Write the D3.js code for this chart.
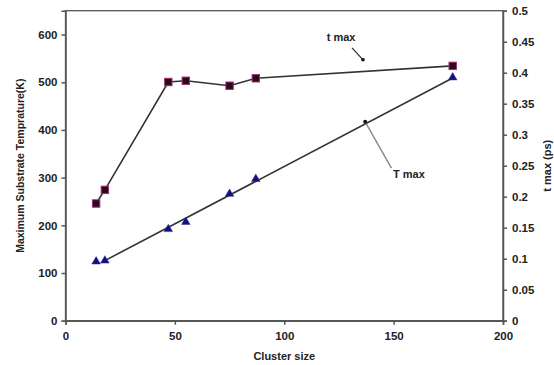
<!DOCTYPE html>
<html><head><meta charset="utf-8">
<script src="https://cdn.jsdelivr.net/npm/d3@7"></script>
<style>body{margin:0;background:#fff}svg{display:block}text{font-family:"Liberation Sans",Arial,sans-serif;font-weight:bold;fill:#222}</style>
</head><body><svg id="c" width="554" height="365"></svg>
<script>
const clusterSizes = [14, 18, 47, 55, 75, 87, 177];
const tMaxPs = [0.189, 0.211, 0.385, 0.387, 0.379, 0.391, 0.411];
const TMaxK = [124, 126, 192, 207, 266, 297, 510];
const trendX = [18, 177];
const trendY = [126, 509];
const xTicks = [0, 50, 100, 150, 200];
const leftTicks = [0, 100, 200, 300, 400, 500, 600];
const rightTicks = [0, 0.05, 0.1, 0.15, 0.2, 0.25, 0.3, 0.35, 0.4, 0.45, 0.5];
const labels = {x: "Cluster size", left: "Maximum Substrate Temprature(K)", right: "t max (ps)"};
// annotations in data units
const annoT = {text: "t max", lx: 126, ly: 586, x1: 131, y1: 572, x2: 136, y2: 547};
const annoK = {text: "T max", lx: 157, ly: 300, x1: 149, y1: 320, x2: 137, y2: 417};

const svg = d3.select("#c");
const x = d3.scaleLinear().domain([0, 200]).range([65.5, 503]);
const yL = d3.scaleLinear().domain([0, 650]).range([320.7, 10.7]);
const yR = d3.scaleLinear().domain([0, 0.5]).range([320.7, 10.7]);

svg.append("rect").attr("x", x(0)).attr("y", yL(650)).attr("width", x(200) - x(0)).attr("height", yL(0) - yL(650))
  .attr("fill", "none").attr("stroke", "#555").attr("stroke-width", 1.3);

const ax = svg.append("g").attr("transform", `translate(0,${yL(0)})`)
  .call(d3.axisBottom(x).tickValues(xTicks).tickSize(4).tickFormat(d3.format("d")));
const al = svg.append("g").attr("transform", `translate(${x(0)},0)`)
  .call(d3.axisLeft(yL).tickValues(leftTicks).tickSize(4).tickFormat(d3.format("d")));
const ar = svg.append("g").attr("transform", `translate(${x(200)},0)`)
  .call(d3.axisRight(yR).tickValues(rightTicks).tickSize(4).tickFormat(d => d === 0 ? "0" : String(+d.toFixed(2))));
[ax, al, ar].forEach(g => {
  g.selectAll("path,line").attr("stroke", "#555").attr("stroke-width", 1.5);
  g.selectAll("text").attr("font-size", 11.5).attr("font-family", "Liberation Sans,Arial,sans-serif").attr("font-weight", "bold").attr("fill", "#222");
});
ax.selectAll("text").attr("dy", "1.05em");
al.selectAll("text").attr("x", -8);
ar.selectAll("text").attr("x", 9);

svg.append("text").attr("x", (x(0) + x(200)) / 2).attr("y", 360).attr("text-anchor", "middle").attr("font-size", 11).text(labels.x);
svg.append("text").attr("transform", `translate(24,${(yL(0) + yL(650)) / 2}) rotate(-90)`).attr("text-anchor", "middle").attr("font-size", 10.5).text(labels.left);
svg.append("text").attr("transform", `translate(551,${yR(0.25)}) rotate(-90)`).attr("text-anchor", "middle").attr("font-size", 11).text(labels.right);

svg.append("line").attr("x1", x(trendX[0])).attr("y1", yL(trendY[0])).attr("x2", x(trendX[1])).attr("y2", yL(trendY[1]))
  .attr("stroke", "#333").attr("stroke-width", 1.6);
const pts = clusterSizes.map((c, i) => [x(c), yR(tMaxPs[i])]);
svg.append("path").attr("d", d3.line()(pts)).attr("fill", "none").attr("stroke", "#333").attr("stroke-width", 1.6);

svg.selectAll(".sq").data(clusterSizes).join("rect").attr("class", "sq")
  .attr("x", (d) => x(d) - 3.7).attr("y", (d, i) => yR(tMaxPs[i]) - 3.7).attr("width", 7.4).attr("height", 7.4)
  .attr("fill", "#2a0820").attr("stroke", "#a03070").attr("stroke-width", 1);
const tri = d3.symbol().type(d3.symbolTriangle).size(32);
svg.selectAll(".tr").data(clusterSizes).join("path").attr("class", "tr")
  .attr("d", tri).attr("transform", (d, i) => `translate(${x(d)},${yL(TMaxK[i])})`)
  .attr("fill", "#101080").attr("stroke", "#303090").attr("stroke-width", 0.5);

svg.append("text").attr("x", x(annoT.lx)).attr("y", yL(annoT.ly)).attr("text-anchor", "middle").attr("font-size", 11).text(annoT.text);
svg.append("line").attr("x1", x(annoT.x1)).attr("y1", yL(annoT.y1)).attr("x2", x(annoT.x2)).attr("y2", yL(annoT.y2)).attr("stroke", "#333").attr("stroke-width", 1.3);
svg.append("circle").attr("cx", x(annoT.x2)).attr("cy", yL(annoT.y2)).attr("r", 1.8).attr("fill", "#111");
svg.append("text").attr("x", x(annoK.lx)).attr("y", yL(annoK.ly)).attr("text-anchor", "middle").attr("font-size", 11).text(annoK.text);
svg.append("line").attr("x1", x(annoK.x1)).attr("y1", yL(annoK.y1)).attr("x2", x(annoK.x2)).attr("y2", yL(annoK.y2)).attr("stroke", "#888").attr("stroke-width", 1.4);
svg.append("circle").attr("cx", x(annoK.x2)).attr("cy", yL(annoK.y2)).attr("r", 2).attr("fill", "#111");
</script></body></html>
